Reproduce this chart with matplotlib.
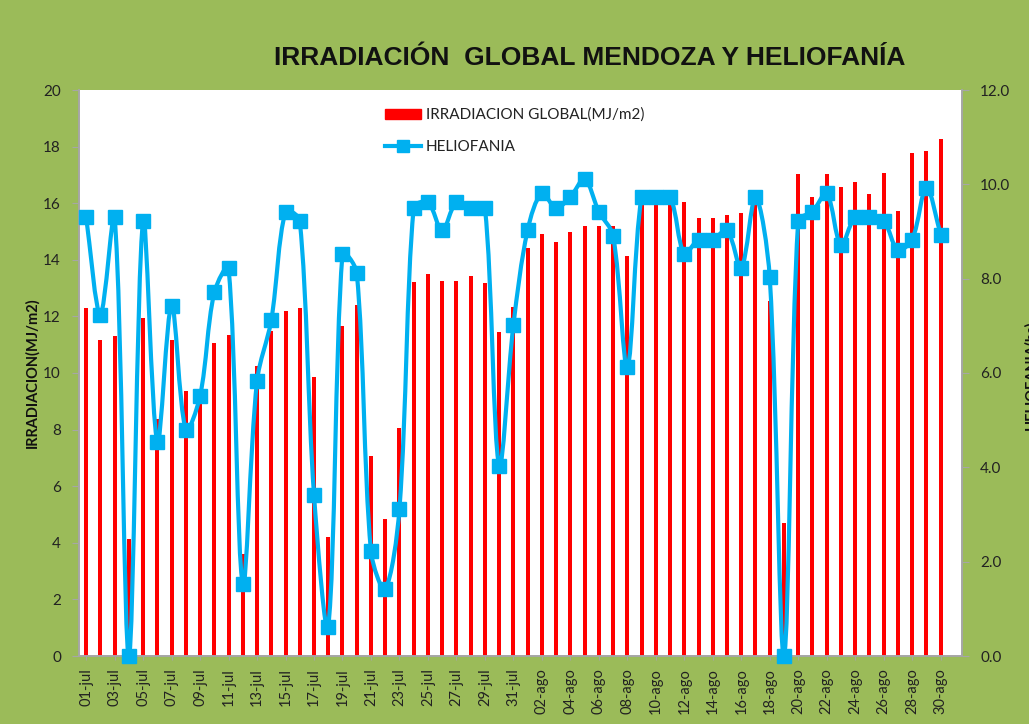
import matplotlib
matplotlib.use("Agg")
import matplotlib.pyplot as plt
import numpy as np
from matplotlib.path import Path
from matplotlib.patches import PathPatch, Patch
from matplotlib.lines import Line2D

# ---- data ----
days_jul = [f"{d:02d}-jul" for d in range(1, 32)]
days_ago = [f"{d:02d}-ago" for d in range(1, 32)]
categories = days_jul + days_ago  # 62 slots, last one (31-ago) empty

irradiacion = [
    12.28, 11.16, 11.29, 4.13, 11.94, 8.39, 11.16, 9.36, 9.45, 11.07,
    11.34, 3.61, 10.23, 11.49, 12.20, 12.29, 9.85, 4.22, 11.66, 12.42,
    7.07, 4.83, 8.07, 13.22, 13.50, 13.26, 13.26, 13.41, 13.18, 11.45,
    12.33,
    14.41, 14.91, 14.62, 15.00, 15.19, 15.19, 15.19, 14.13, 16.20, 16.08,
    16.10, 16.04, 15.46, 15.46, 15.57, 15.66, 16.05, 12.56, 4.69, 17.02,
    16.22, 17.02, 16.59, 16.74, 16.31, 17.07, 15.71, 17.76, 17.83, 18.28,
]

heliofania = [
    9.31, 7.24, 9.31, 0.00, 9.23, 4.54, 7.43, 4.80, 5.51, 7.71,
    8.22, 1.53, 5.83, 7.12, 9.42, 9.23, 3.42, 0.62, 8.52, 8.13,
    2.22, 1.42, 3.12, 9.50, 9.62, 9.03, 9.62, 9.50, 9.50, 4.03,
    7.01,
    9.03, 9.81, 9.50, 9.73, 10.11, 9.42, 8.91, 6.12, 9.73, 9.73,
    9.73, 8.53, 8.83, 8.83, 9.03, 8.23, 9.73, 8.03, 0.00, 9.23,
    9.42, 9.81, 8.71, 9.31, 9.31, 9.23, 8.61, 8.83, 9.93, 8.93,
]

left_ticks = list(range(0, 21, 2))
right_ticks = [0, 2, 4, 6, 8, 10, 12]

title = "IRRADIACIÓN  GLOBAL MENDOZA Y HELIOFANÍA"
label_bar = "IRRADIACION GLOBAL(MJ/m2)"
label_line = "HELIOFANIA"
ylabel_left = "IRRADIACION(MJ/m2)"
ylabel_right = "HELIOFANIA(hs)"

# ---- styles ----
GREEN = "#9BBB59"
RED = "#FF0000"
BLUE = "#00B0F0"
AXCOL = "#A6A6A6"
body_font = ["Lato", "DejaVu Sans"]

W, H = 1029, 724
L, R, T, B = 79, 962, 90, 656

fig = plt.figure(figsize=(W / 100, H / 100), dpi=100)
fig.patch.set_facecolor(GREEN)
ax = fig.add_axes([L / W, 1 - B / H, (R - L) / W, (B - T) / H])
ax.set_facecolor("white")

x = np.arange(len(irradiacion))
ax.bar(x, irradiacion, width=0.28, color=RED, zorder=2)
ax.set_xlim(-0.5, len(categories) - 0.5)
ax.set_ylim(0, 20)
ax.set_yticks(left_ticks)
ax.set_yticklabels([str(t) for t in left_ticks], fontsize=11, family=body_font, color="#222222")
ax.set_xticks(x[::2])
ax.set_xticklabels(categories[:len(irradiacion)][::2], rotation=90, fontsize=10.5,
                   family=body_font, color="#222222")
ax.tick_params(axis="x", length=3, color=AXCOL, pad=6)
ax.tick_params(axis="y", length=5, color=AXCOL, pad=8)
ax.spines["top"].set_visible(False)
for s in ["left", "bottom", "right"]:
    ax.spines[s].set_color(AXCOL)
    ax.spines[s].set_linewidth(1.2)

ax2 = ax.twinx()
ax2.set_ylim(0, 12)
ax2.set_yticks(right_ticks)
ax2.set_yticklabels([f"{t:.1f}" for t in right_ticks], fontsize=11, family=body_font, color="#222222")
ax2.tick_params(axis="y", length=5, color=AXCOL, pad=8)
ax2.spines["top"].set_visible(False)
for s in ["left", "bottom", "right"]:
    ax2.spines[s].set_color(AXCOL)
    ax2.spines[s].set_linewidth(1.2)

# smoothed line, Excel-like Bezier smoothing computed in screen-proportional units
sx = (R - L) / len(categories)      # px per category
sy = (B - T) / 12.0                 # px per hour on right axis
hx = np.arange(len(heliofania), dtype=float)
hy = np.array(heliofania, dtype=float)
P = np.column_stack([hx * sx, hy * sy])
Pext = np.vstack([P[0], P, P[-1]])
def seglen(a, b):
    return float(np.hypot(*(b - a)))
verts = [tuple(P[0])]
codes = [Path.MOVETO]
for i in range(len(P) - 1):
    p0, p1, p2, p3 = Pext[i], Pext[i + 1], Pext[i + 2], Pext[i + 3]
    d01, d12, d23 = seglen(p0, p1), seglen(p1, p2), seglen(p2, p3)
    f1 = 2 * d12 / (d01 + d12) if (d01 + d12) > 0 else 1.0
    f2 = 2 * d12 / (d12 + d23) if (d12 + d23) > 0 else 1.0
    f1 = min(f1, 1.6)
    f2 = min(f2, 1.6)
    c1 = p1 + (p2 - p0) / 6.0 * f1
    c2 = p2 - (p3 - p1) / 6.0 * f2
    verts += [tuple(c1), tuple(c2), tuple(p2)]
    codes += [Path.CURVE4] * 3
verts = np.array(verts)
verts[:, 0] /= sx
verts[:, 1] /= sy
path = Path(verts, codes)
ax2.add_patch(PathPatch(path, facecolor="none", edgecolor=BLUE, lw=3.0,
                        capstyle="round", joinstyle="round", zorder=3, clip_on=False))
ax2.plot(hx, hy, linestyle="none", marker="s", markersize=10, color=BLUE,
         zorder=4, clip_on=False)

# axis labels
fig.text(32 / W, 1 - 373 / H, ylabel_left, rotation=90, ha="center", va="center",
         fontsize=10.5, fontweight="bold", family=body_font, color="#111111")
fig.text(1031 / W, 1 - 375 / H, ylabel_right, rotation=90, ha="center", va="center",
         fontsize=10.5, fontweight="bold", family=body_font, color="#111111")

# title
fig.text(590 / W, 1 - 58 / H, title, ha="center", va="center",
         fontsize=19, fontweight="bold",
         family=["Liberation Sans Narrow", "Liberation Sans", "DejaVu Sans"], color="#111111")

# legend
handles = [Patch(facecolor=RED, edgecolor=RED),
           Line2D([0], [0], color=BLUE, lw=3, marker="s", markersize=8)]
leg = fig.legend(handles, [label_bar, label_line], loc="upper left",
                 bbox_to_anchor=(371 / W, 1 - 94 / H), frameon=False,
                 prop={"family": body_font, "size": 11}, handlelength=2.35,
                 handleheight=0.6, labelspacing=1.15, handletextpad=0.35)
for t in leg.get_texts():
    t.set_color("#222222")

fig.savefig("out.png", dpi=100, facecolor=GREEN)
